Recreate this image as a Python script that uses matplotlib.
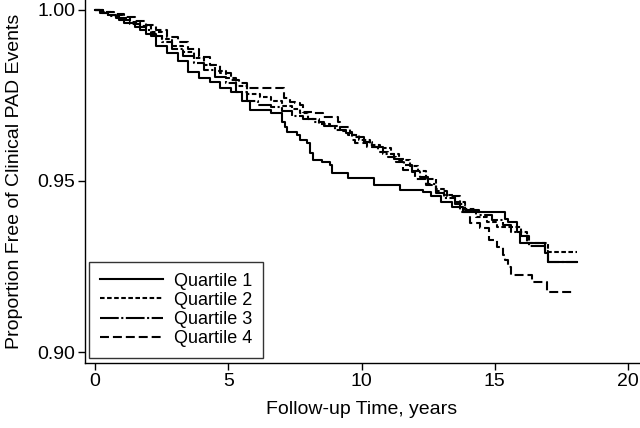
import matplotlib
matplotlib.use("Agg")
import matplotlib.pyplot as plt

plt.rcParams['font.family'] = ['Liberation Sans', 'DejaVu Sans']

labels = ["Quartile 1", "Quartile 2", "Quartile 3", "Quartile 4"]

q1_t = [0.25, 0.5, 0.8, 1.1, 1.5, 1.9, 2.3, 2.7, 3.1, 3.5, 3.9, 4.3, 4.7, 5.1, 5.5, 5.8,
        6.6, 7.0, 7.13, 7.2, 7.58, 7.7, 7.95, 8.07, 8.18, 8.52, 8.82, 8.9, 9.5, 10.45, 11.45,
        12.3, 12.6, 13.0, 13.4, 13.8, 15.4, 15.5, 15.85, 15.95, 16.9, 17.0]
q1_s = [.9992, .9985, .9975, .9962, .9950, .9930, .9895, .9875, .9850, .9818, .9800, .9790,
        .9772, .9760, .9735, .9708, .9699, .9673, .9658, .9643, .9635, .9620, .9611, .9582,
        .9561, .9556, .9547, .9523, .9509, .9488, .9474, .9468, .9455, .9440, .9425, .9409,
        .9389, .9380, .9350, .9319, .9290, .9263]
q1_end = 18.1

q2_t = [0.3, 0.6, 1.0, 1.3, 1.7, 2.1, 2.5, 2.9, 3.3, 3.7, 4.1, 4.5, 4.9, 5.3, 5.7, 6.2, 6.6,
        7.0, 7.4, 7.7, 8.0, 8.4, 8.8, 9.2, 9.5, 9.9, 10.3, 10.7, 11.1, 11.4, 11.8, 12.1, 12.4,
        12.8, 13.1, 13.5, 13.9, 14.3, 14.7, 15.1, 16.0, 16.2, 17.0]
q2_s = [.9993, .9985, .9975, .9965, .9952, .9935, .9915, .9895, .9878, .9860, .9840, .9822,
        .9800, .9778, .9755, .9745, .9735, .9718, .9710, .9700, .9680, .9668, .9660, .9645,
        .9635, .9620, .9605, .9595, .9580, .9562, .9545, .9530, .9505, .9478, .9460, .9440,
        .9418, .9395, .9380, .9365, .9350, .9319, .9292]
q2_end = 18.1

q3_t = [0.2, 0.5, 0.9, 1.3, 1.7, 2.1, 2.5, 2.9, 3.3, 3.7, 4.1, 4.5, 4.9, 5.3, 5.7, 6.1, 6.6,
        7.0, 7.4, 7.8, 8.2, 8.6, 9.0, 9.4, 9.7, 10.1, 10.4, 10.8, 11.2, 11.6, 11.9, 12.2, 12.5,
        12.8, 13.1, 13.5, 13.9, 14.4, 14.9, 15.3, 15.6, 16.0, 16.3, 16.9, 17.0]
q3_s = [.9992, .9983, .9970, .9958, .9942, .9925, .9905, .9885, .9865, .9845, .9825, .9805,
        .9785, .9760, .9735, .9722, .9715, .9705, .9690, .9680, .9672, .9660, .9650, .9640,
        .9630, .9615, .9598, .9580, .9565, .9548, .9530, .9512, .9490, .9465, .9450, .9432,
        .9415, .9400, .9385, .9370, .9350, .9340, .9310, .9295, .9262]
q3_end = 18.1

q4_t = [0.3, 0.7, 1.1, 1.5, 1.9, 2.3, 2.7, 3.1, 3.5, 3.9, 4.3, 4.7, 5.1, 5.4, 5.7, 7.1, 7.3,
        7.5, 7.7, 7.8, 8.2, 8.55, 9.1, 9.2, 9.55, 9.65, 9.75, 10.2, 10.6, 11.0, 11.3, 11.55,
        11.9, 12.0, 12.4, 12.8, 13.2, 13.7, 14.07, 14.45, 14.8, 15.1, 15.3, 15.4, 15.5, 15.6,
        16.4, 16.96]
q4_s = [.9995, .9988, .9978, .9967, .9955, .9940, .9922, .9905, .9885, .9862, .9840, .9815,
        .9795, .9785, .9772, .9743, .9731, .9728, .9722, .9702, .9699, .9687, .9672, .9658,
        .9643, .9620, .9611, .9600, .9585, .9570, .9555, .9532, .9526, .9506, .9488, .9470,
        .9455, .9409, .9377, .9363, .9327, .9307, .9284, .9269, .9249, .9225, .9205, .9175]
q4_end = 17.9

x_ticks = [0, 5, 10, 15, 20]
y_ticks = [0.90, 0.95, 1.00]
y_ticklabels = ["0.90", "0.95", "1.00"]

series = [(q1_t, q1_s, q1_end), (q2_t, q2_s, q2_end), (q3_t, q3_s, q3_end), (q4_t, q4_s, q4_end)]
styles = ['-', (0, (2.2, 1.2)), (0, (9, 1.2, 1, 1.2)), (0, (4.3, 1.9))]

fig = plt.figure(figsize=(6.4, 4.28), dpi=100)
ax = fig.add_axes([85/640, 1 - 363/428, (639-85)/640, 363/428])

for (t, s, end), ls, lab in zip(series, styles, labels):
    tt = [0.0] + list(t) + [end]
    ss = [1.0] + list(s) + [s[-1]]
    ax.step(tt, ss, where='post', color='black', lw=1.5, linestyle=ls, label=lab)

ax.set_xlim(-0.375, 20.41)
ax.set_ylim(0.8968, 1.0029)
ax.set_xticks(x_ticks)
ax.set_yticks(y_ticks)
ax.set_yticklabels(y_ticklabels)
ax.tick_params(direction='out', length=5, width=1, labelsize=14, pad=2, colors='black')
for side in ['top', 'right']:
    ax.spines[side].set_visible(False)
for side in ['left', 'bottom']:
    ax.spines[side].set_linewidth(1)

ax.set_xlabel("Follow-up Time, years", fontsize=14, labelpad=8)
ax.set_ylabel("Proportion Free of Clinical PAD Events", fontsize=14, labelpad=10)

leg = ax.legend(loc='lower left', bbox_to_anchor=(0.008, 0.014), fontsize=13,
                handlelength=3.5, handletextpad=0.6, labelspacing=0.12,
                borderpad=0.6, borderaxespad=0, frameon=True, fancybox=False)
leg.get_frame().set_edgecolor('black')
leg.get_frame().set_linewidth(1)

fig.savefig("out.png", dpi=100)
